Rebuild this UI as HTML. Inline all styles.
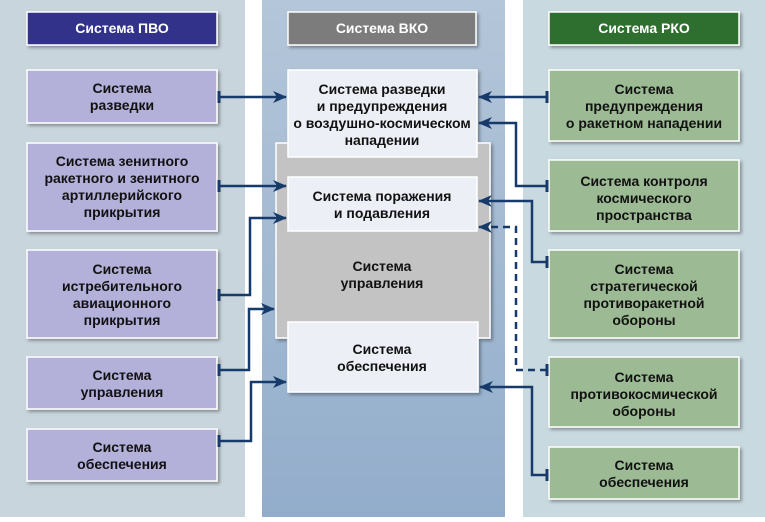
<!DOCTYPE html>
<html><head><meta charset="utf-8"><style>
html,body{margin:0;padding:0;background:#fff}
svg text{font-family:"Liberation Sans Narrow","Liberation Sans",sans-serif;font-weight:bold;font-size:14px;fill:#111;text-anchor:middle}
</style></head><body>
<svg width="765" height="517" viewBox="0 0 765 517" xmlns="http://www.w3.org/2000/svg">
<defs>
<linearGradient id="cg" x1="0" y1="0" x2="0" y2="1"><stop offset="0" stop-color="#b4c6d9"/><stop offset="1" stop-color="#92adcb"/></linearGradient>
<filter id="sh" x="-10%" y="-10%" width="130%" height="130%"><feDropShadow dx="2" dy="2" stdDeviation="1.5" flood-color="#000" flood-opacity="0.35"/></filter>
<marker id="ar" markerWidth="14" markerHeight="12" refX="13" refY="6" orient="auto" markerUnits="userSpaceOnUse"><path d="M0,0 L14,6 L0,12 L4,6 Z" fill="#163a6a"/></marker>
</defs>
<rect x="0" y="0" width="245" height="517" fill="#c8d5dc"/>
<rect x="262" y="0" width="243" height="517" fill="url(#cg)"/>
<rect x="523" y="0" width="242" height="517" fill="#c8d9df"/>

<g stroke="#fff" stroke-width="1.5" filter="url(#sh)">
<rect x="27" y="12" width="190" height="33" fill="#33338a"/>
<rect x="288" y="12" width="188" height="33" fill="#7b7b7b"/>
<rect x="549" y="12" width="190" height="33" fill="#2f6e2f"/>
<g fill="#b3b0d9">
<rect x="27" y="70" width="190" height="53"/>
<rect x="27" y="143" width="190" height="88"/>
<rect x="27" y="250" width="190" height="88"/>
<rect x="27" y="357" width="190" height="52"/>
<rect x="27" y="429" width="190" height="52"/>
</g>
<rect x="276" y="143" width="214" height="195" fill="#c3c3c3"/>
<g fill="#eceff6">
<rect x="288" y="70" width="189" height="87"/>
<rect x="288" y="177" width="189" height="54"/>
<rect x="288" y="322" width="190" height="70"/>
</g>
<g fill="#9cba93">
<rect x="549" y="70" width="190" height="71"/>
<rect x="549" y="160" width="190" height="71"/>
<rect x="549" y="250" width="190" height="88"/>
<rect x="549" y="357" width="190" height="70"/>
<rect x="549" y="447" width="190" height="52"/>
</g>
</g>

<text x="122" y="33" style="fill:#fff">Система ПВО</text>
<text x="382" y="33" style="fill:#fff">Система ВКО</text>
<text x="644" y="33" style="fill:#fff">Система РКО</text>

<text x="122" y="93">Система</text><text x="122" y="110">разведки</text>
<text x="122" y="166">Система зенитного</text><text x="122" y="183">ракетного и зенитного</text><text x="122" y="200">артиллерийского</text><text x="122" y="217">прикрытия</text>
<text x="122" y="274">Система</text><text x="122" y="291">истребительного</text><text x="122" y="308">авиационного</text><text x="122" y="325">прикрытия</text>
<text x="122" y="380">Система</text><text x="122" y="397">управления</text>
<text x="122" y="452">Система</text><text x="122" y="469">обеспечения</text>

<text x="382" y="94">Система разведки</text><text x="382" y="111">и предупреждения</text><text x="382" y="128">о воздушно-космическом</text><text x="382" y="145">нападении</text>
<text x="382" y="201">Система поражения</text><text x="382" y="218">и подавления</text>
<text x="382" y="271">Система</text><text x="382" y="288">управления</text>
<text x="382" y="354">Система</text><text x="382" y="371">обеспечения</text>

<text x="644" y="94">Система</text><text x="644" y="111">предупреждения</text><text x="644" y="128">о ракетном нападении</text>
<text x="644" y="186">Система контроля</text><text x="644" y="203">космического</text><text x="644" y="220">пространства</text>
<text x="644" y="274">Система</text><text x="644" y="291">стратегической</text><text x="644" y="308">противоракетной</text><text x="644" y="325">обороны</text>
<text x="644" y="382">Система</text><text x="644" y="399">противокосмической</text><text x="644" y="416">обороны</text>
<text x="644" y="470">Система</text><text x="644" y="487">обеспечения</text>

<g stroke="#163a6a" stroke-width="2.5" fill="none">
<path d="M219,97 H286" marker-end="url(#ar)"/>
<path d="M219,186 H286" marker-end="url(#ar)"/>
<path d="M219,295 H250 V218 H286" marker-end="url(#ar)"/>
<path d="M219,370 H249 V309 H274" marker-end="url(#ar)"/>
<path d="M219,441 H251 V382 H286" marker-end="url(#ar)"/>
<path d="M547,97 H479" marker-end="url(#ar)"/>
<path d="M547,186 H516 V123 H479" marker-end="url(#ar)"/>
<path d="M547,262 H532 V201 H479" marker-end="url(#ar)"/>
<path d="M547,370 H516 V227 H479" stroke-dasharray="7,5" marker-end="url(#ar)"/>
<path d="M547,475 H532 V387 H480" marker-end="url(#ar)"/>
</g>
<g stroke="#163a6a" stroke-width="3">
<path d="M219,91 V103 M219,180 V192 M219,289 V301 M219,364 V376 M219,435 V447"/>
<path d="M547,91 V103 M547,180 V192 M547,256 V268 M547,364 V376 M547,469 V481"/>
</g>
</svg>
</body></html>
